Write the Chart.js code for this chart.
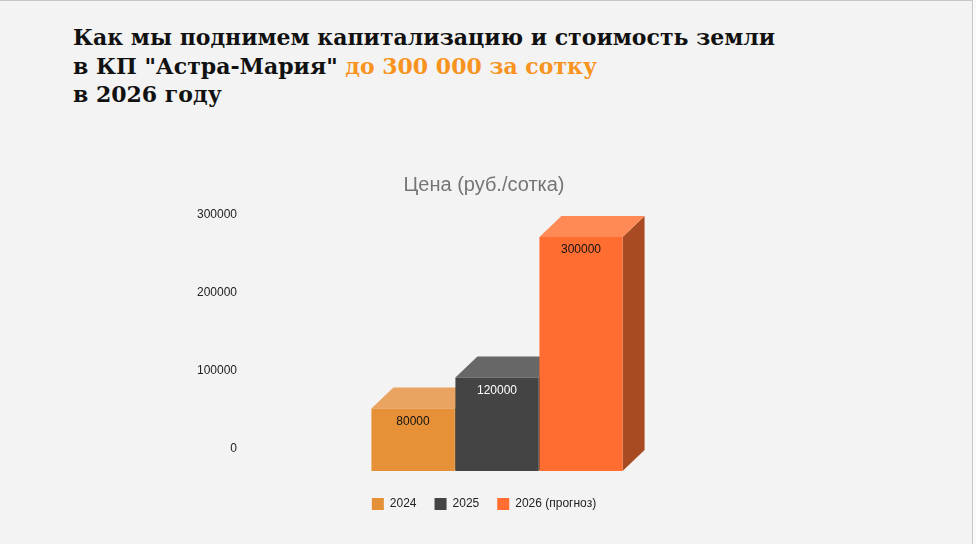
<!DOCTYPE html>
<html lang="ru">
<head>
<meta charset="utf-8">
<title>Цена (руб./сотка)</title>
<script src="https://cdn.jsdelivr.net/npm/chart.js@4.4.1/dist/chart.umd.min.js"></script>
<style>
    html, body {
        margin: 0;
        padding: 0;
        background: #fafafa;
    }
    .slide {
        position: relative;
        width: 972px;
        height: 543px;
        background: #f3f3f3;
        border-top: 1px solid #c6c6c6;
        border-right: 1px solid #c6c6c6;
        overflow: hidden;
    }
    .heading {
        position: absolute;
        left: 73px;
        top: 22px;
        margin: 0;
        font-family: 'DejaVu Serif', serif;
        font-weight: bold;
        font-size: 22px;
        line-height: 28.5px;
        color: #111;
        white-space: nowrap;
    }
    .heading .accent {
        color: #f7931e;
    }
    .chart-box {
        position: absolute;
        left: 184px;
        top: 159px;
        width: 600px;
        height: 360px;
    }
</style>
</head>
<body>
<div class="slide">
    <h1 class="heading">Как мы поднимем капитализацию и стоимость земли<br>в КП "Астра-Мария" <span class="accent">до 300 000 за сотку</span><br>в 2026 году</h1>
    <div class="chart-box">
        <canvas id="priceChart" width="600" height="360"></canvas>
    </div>
</div>

<script>
// Data
const categories = [''];
const seriesNames = ['2024', '2025', '2026 (прогноз)'];
const seriesValues = [[80000], [120000], [300000]];
const yTicks = [0, 100000, 200000, 300000];

// Face colours per series: front, top, side
const frontColors = ['#e69138', '#444444', '#ff6d31'];
const topColors = ['#eaa462', '#676767', '#ff8a56'];
const sideColors = ['#a3661f', '#2e2e2e', '#a84b22'];
const labelColors = ['#111111', '#ffffff', '#111111'];

// depth of the fake 3D extrusion (px)
const DEPTH_X = 22;
const DEPTH_Y = 21;

Chart.defaults.font.family = 'Arial, "Liberation Sans", sans-serif';
Chart.defaults.font.size = 12;
Chart.defaults.color = '#222222';

/**
 * Draw top and side faces behind the front rectangles
 */
const bar3dPlugin = {
    id: 'bar3d',
    beforeDatasetsDraw(chart) {
        const ctx = chart.ctx;
        ctx.save();
        chart.data.datasets.forEach((ds, i) => {
            const meta = chart.getDatasetMeta(i);
            meta.data.forEach(bar => {
                const left = bar.x - bar.width / 2;
                const right = bar.x + bar.width / 2;
                const top = bar.y;
                const bottom = bar.base;

                // side face
                ctx.fillStyle = sideColors[i];
                ctx.beginPath();
                ctx.moveTo(right, top);
                ctx.lineTo(right + DEPTH_X, top - DEPTH_Y);
                ctx.lineTo(right + DEPTH_X, bottom - DEPTH_Y);
                ctx.lineTo(right, bottom);
                ctx.closePath();
                ctx.fill();

                // top face
                ctx.fillStyle = topColors[i];
                ctx.beginPath();
                ctx.moveTo(left, top);
                ctx.lineTo(left + DEPTH_X, top - DEPTH_Y);
                ctx.lineTo(right + DEPTH_X, top - DEPTH_Y);
                ctx.lineTo(right, top);
                ctx.closePath();
                ctx.fill();
            });
        });
        ctx.restore();
    }
};

/**
 * Value labels inside the front faces
 */
const valueLabelPlugin = {
    id: 'valueLabels',
    afterDatasetsDraw(chart) {
        const ctx = chart.ctx;
        ctx.save();
        ctx.font = '12px Arial, "Liberation Sans", sans-serif';
        ctx.textAlign = 'center';
        ctx.textBaseline = 'middle';
        chart.data.datasets.forEach((ds, i) => {
            const meta = chart.getDatasetMeta(i);
            meta.data.forEach((bar, j) => {
                ctx.fillStyle = labelColors[i];
                ctx.fillText(String(ds.data[j]), bar.x, bar.y + 13);
            });
        });
        ctx.restore();
    }
};

const ctx = document.getElementById('priceChart').getContext('2d');

const priceChart = new Chart(ctx, {
    type: 'bar',
    data: {
        labels: categories,
        datasets: seriesNames.map((name, i) => ({
            label: name,
            data: seriesValues[i],
            backgroundColor: frontColors[i],
            borderWidth: 0,
            barPercentage: 0.99,
            categoryPercentage: 0.4903
        }))
    },
    options: {
        responsive: false,
        animation: false,
        layout: {
            padding: 0
        },
        plugins: {
            title: {
                display: true,
                text: 'Цена (руб./сотка)',
                color: '#757575',
                font: { size: 20, weight: 'normal' },
                padding: { top: 13, bottom: 40 }
            },
            legend: {
                position: 'bottom',
                labels: {
                    boxWidth: 12,
                    boxHeight: 12,
                    padding: 18,
                    color: '#222222',
                    font: { size: 12 }
                }
            },
            tooltip: { enabled: false }
        },
        scales: {
            x: {
                grid: {
                    display: true,
                    drawOnChartArea: false,
                    drawTicks: true,
                    tickLength: 9,
                    color: 'rgba(0,0,0,0)'
                },
                border: { display: false },
                ticks: { display: false }
            },
            y: {
                min: 0,
                max: 300000,
                afterBuildTicks: (scale) => {
                    scale.ticks = yTicks.map(v => ({ value: v }));
                },
                afterFit: (scale) => {
                    scale.width = 56;
                },
                grid: { display: false, drawTicks: false },
                border: { display: false },
                ticks: {
                    padding: 3,
                    labelOffset: -22,
                    color: '#222222',
                    font: { size: 12 },
                    callback: (value) => String(value)
                }
            },
            // empty right-hand axis, only keeps the plot off the right edge
            yRight: {
                position: 'right',
                display: true,
                afterFit: (scale) => {
                    scale.width = 30;
                },
                grid: { display: false, drawTicks: false },
                border: { display: false },
                ticks: { display: false }
            }
        }
    },
    plugins: [bar3dPlugin, valueLabelPlugin]
});
</script>
</body>
</html>
